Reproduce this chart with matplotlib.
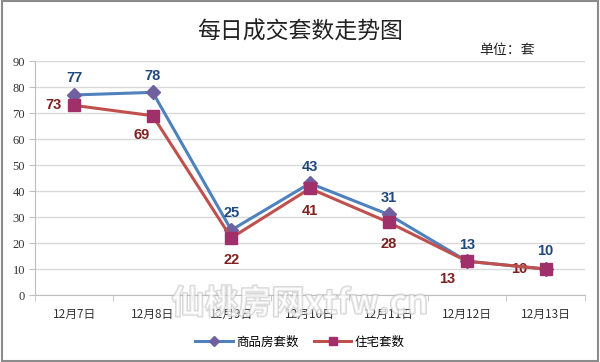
import matplotlib
matplotlib.use("Agg")
import matplotlib.pyplot as plt
from matplotlib.patches import Rectangle
import matplotlib.patheffects as pe

plt.rcParams['font.family'] = ['Noto Sans CJK SC', 'DejaVu Sans']

categories = ["12月7日", "12月8日", "12月9日", "12月10日", "12月11日", "12月12日", "12月13日"]
commercial = [77, 78, 25, 43, 31, 13, 10]
residential = [73, 69, 22, 41, 28, 13, 10]
y_ticks = [0, 10, 20, 30, 40, 50, 60, 70, 80, 90]

fig = plt.figure(figsize=(6.0, 3.62), dpi=100)
fig.patches.append(Rectangle((0.003, 0.004), 0.994, 0.992, transform=fig.transFigure,
                             fill=False, edgecolor='#8c8c8c', linewidth=1.5))
ax = fig.add_axes([0.058, 0.185, 0.917, 0.646])
x = list(range(len(categories)))

ax.plot(x, commercial, color='#4F81BD', linewidth=2.2, marker='D', markersize=7,
        markerfacecolor='#7060A0', markeredgecolor='#7060A0', label='商品房套数', zorder=3)
ax.plot(x, residential, color='#C0504D', linewidth=2.2, marker='s', markersize=8,
        markerfacecolor='#A0306A', markeredgecolor='#A0306A', label='住宅套数', zorder=4)

ax.set_xlim(-0.5, len(categories) - 0.5)
ax.set_ylim(0, 90)
ax.set_yticks(y_ticks)
ax.set_yticklabels([str(v) for v in y_ticks], fontsize=9, color='#333333', family='Liberation Serif')
ax.set_xticks(x)
ax.set_xticklabels(categories, fontsize=8.5, color='#333333')
ax.set_xticks([i - 0.5 for i in range(len(categories) + 1)], minor=True)
ax.tick_params(axis='x', which='major', length=0, pad=9)
ax.tick_params(axis='x', which='minor', length=4, color='#bfbfbf')
ax.tick_params(axis='y', length=4, color='#bfbfbf', pad=3)
ax.grid(axis='y', color='#d9d9d9', linewidth=1)
ax.set_axisbelow(True)
for s in ['top', 'right']:
    ax.spines[s].set_visible(False)
ax.spines['left'].set_color('#bfbfbf')
ax.spines['bottom'].set_color('#bfbfbf')

blue_off = [(0, 12), (0, 12), (0, 12), (0, 12), (0, 12), (0, 12), (0, 13)]
red_off = [(-15, 0), (-8, -14), (0, -16), (0, -16), (0, -16), (-14, -13), (-19, 0)]
for i, v in enumerate(commercial):
    ax.annotate(str(v), (i, v), xytext=blue_off[i], textcoords='offset points',
                ha='center', va='center', fontsize=10.5, fontweight='bold',
                color='#1F497D', family='Liberation Sans')
for i, v in enumerate(residential):
    ax.annotate(str(v), (i, v), xytext=red_off[i], textcoords='offset points',
                ha='center', va='center', fontsize=10.5, fontweight='bold',
                color='#7F1F1F', family='Liberation Sans')

fig.text(0.5, 0.912, '每日成交套数走势图', ha='center', va='center', fontsize=16.5, color='#222222')
fig.text(0.845, 0.862, '单位：套', ha='center', va='center', fontsize=10, color='#222222')

wm = fig.text(0.5, 0.16, '仙桃房网xtfw.cn', ha='center', va='center', fontsize=24,
              color='white', fontweight='bold', alpha=0.5, zorder=5)
wm.set_path_effects([pe.withStroke(linewidth=1.5, foreground='#b0b0b0')])

leg = fig.legend(loc='center', bbox_to_anchor=(0.5, 0.055), ncol=2, frameon=False,
                 fontsize=9, handlelength=3, columnspacing=1.2, handletextpad=0.3,
                 markerscale=0.7)

fig.savefig('out.png', dpi=100, facecolor='white')
